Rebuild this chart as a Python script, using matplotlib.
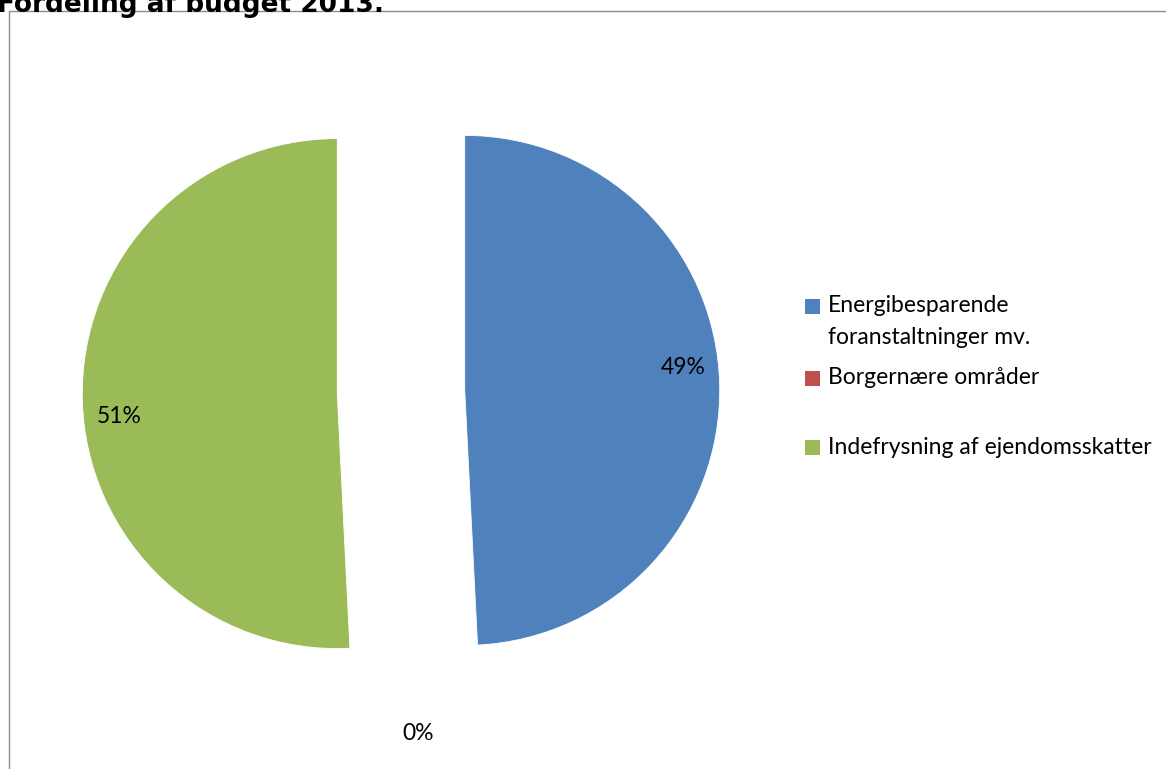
import matplotlib.pyplot as plt
import matplotlib.patches as patches
import numpy as np

# Data
categories = ['Energibesparende\nforanstaltninger mv.', 'Borgernære områder',
              'Indefrysning af ejendomsskatter']
shares = [49.2, 0.01, 50.79]
colors = ['#4F81BD', '#C0504D', '#9BBB59']
title = 'Fordeling af budget 2013.'

W, H = 1166, 769
fig = plt.figure(figsize=(W / 100, H / 100), dpi=100)
plt.rcParams['font.family'] = ['Lato', 'DejaVu Sans']
FS = 16.5

# Chart area border (extends off the right and bottom edges)
fig.patches.append(patches.Rectangle((9 / W, -0.1), 1.2, 1.1 - 11 / H,
                                     transform=fig.transFigure, fill=False,
                                     edgecolor='#8c8c8c', linewidth=1.0))

# Pie axes: 1 data unit = 255 px
S = 714
ax = fig.add_axes([44 / W, 20 / H, S / W, S / H])
wedges, texts, autotexts = ax.pie(
    shares, colors=colors, startangle=90, counterclock=False,
    explode=[0.25] * len(shares), autopct='%1.0f%%', pctdistance=0.85,
    wedgeprops=dict(edgecolor='white', linewidth=0.6),
    textprops=dict(fontsize=FS, color='black'))
ax.set_xlim(-1.4, 1.4)
ax.set_ylim(-1.4, 1.4)
ax.set_aspect('equal')
ax.axis('off')

# Label placement like the spreadsheet: tiny slices outside, others slightly rotated
for w, t, v in zip(wedges, autotexts, shares):
    mid = (w.theta1 + w.theta2) / 2
    cx, cy = w.center
    if v < 2:
        w.set_visible(False)  # a 0% slice shows no area
        a = np.deg2rad(mid)
        t.set_position((cx + 1.09 * np.cos(a), cy + 1.09 * np.sin(a)))
    else:
        a = np.deg2rad(mid + 4.5)
        t.set_position((cx + 0.86 * np.cos(a), cy + 0.86 * np.sin(a)))

# Legend drawn manually to mimic the spacing
legend_y = [306, 378, 447]
for label, col, y in zip(categories, colors, legend_y):
    fig.patches.append(patches.Rectangle((805 / W, 1 - (y + 7.5) / H), 15 / W, 15 / H,
                                         transform=fig.transFigure,
                                         facecolor=col, edgecolor='none'))
    for i, line in enumerate(label.split('\n')):
        fig.text(828 / W, 1 - (y + 32 * i) / H, line, fontsize=FS,
                 va='center', ha='left')

# Title, mostly cut off at the top
fig.text(-0.003, 1 - 11.5 / H, title, fontsize=19, fontweight='bold',
         family='DejaVu Sans', va='baseline', ha='left')

fig.savefig('out.png', dpi=100)
